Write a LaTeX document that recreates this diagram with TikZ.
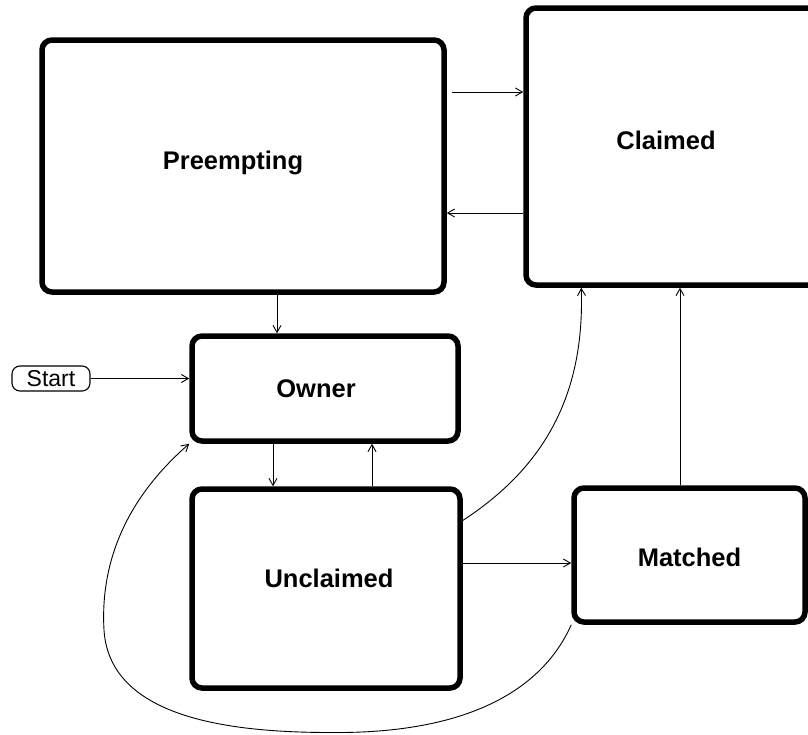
\documentclass[tikz,border=0pt]{standalone}
\usepackage{fontspec}
\setmainfont{Liberation Sans}
\usetikzlibrary{arrows.meta}

\begin{document}
\begin{tikzpicture}[x=1pt,y=-1pt,
  state/.style={draw,line width=5.5pt,rounded corners=10pt,inner sep=0pt},
  statetext/.style={inner sep=0pt,font=\fontsize{25.5}{30}\selectfont\bfseries},
  startbox/.style={draw,line width=1.1pt,rounded corners=8pt,inner sep=0pt,minimum width=78pt,minimum height=25pt,font=\fontsize{23}{27}\selectfont},
  trans/.style={draw,line width=0.9pt,-{Straight Barb[length=7pt,width=8pt]}}]
\clip (0,0) rectangle (808,734);
\node[state,minimum width=402pt,minimum height=252pt,label={[statetext,xshift=-10pt,yshift=3pt]center:Preempting}] (preempting) at (243,166) {};
\node[state,minimum width=300pt,minimum height=277pt,label={[statetext,xshift=-10pt,yshift=6.5pt]center:Claimed}] (claimed) at (676,146.5) {};
\node[state,minimum width=266pt,minimum height=105pt,label={[statetext,xshift=-9pt]center:Owner}] (owner) at (325,388.5) {};
\node[state,minimum width=268pt,minimum height=199pt,label={[statetext,xshift=3pt,yshift=10pt]center:Unclaimed}] (unclaimed) at (326,588.5) {};
\node[state,minimum width=231pt,minimum height=134pt,label={[statetext,yshift=-2pt]center:Matched}] (matched) at (689.5,555) {};
\node[startbox] (start) at (51,378.5) {Start};
\path[trans,shorten <=5pt] ([yshift=74pt]preempting.east) -- ([yshift=74pt]preempting.east -| claimed.west);
\path[trans] ([yshift=-66.5pt]claimed.west) -- ([yshift=-66.5pt]claimed.west -| preempting.east);
\path[trans] ([xshift=34pt]preempting.south) -- ([xshift=34pt]preempting.south |- owner.north);
\path[trans] (start.east) -- (start.east -| owner.west);
\path[trans] ([xshift=-52pt]owner.south) -- ([xshift=-52pt]owner.south |- unclaimed.north);
\path[trans] ([xshift=46pt]unclaimed.north) -- ([xshift=46pt]unclaimed.north |- owner.south);
\path[trans] ([yshift=25.5pt]unclaimed.east) -- ([yshift=25.5pt]unclaimed.east -| matched.west);
\path[trans] ([xshift=-9.5pt]matched.north) -- ([xshift=-9.5pt]matched.north |- claimed.south);
\path[trans] ([yshift=68pt]unclaimed.east) .. controls (540,470) and (585,400) .. ([xshift=58pt]claimed.south west);
\path[trans] (matched.south west) .. controls (540,695) and (460,732) .. (340,732.5)
  .. controls (250,733) and (110,725) .. (104,630)
  .. controls (100,560) and (128,497) .. (owner.south west);
\end{tikzpicture}
\end{document}
